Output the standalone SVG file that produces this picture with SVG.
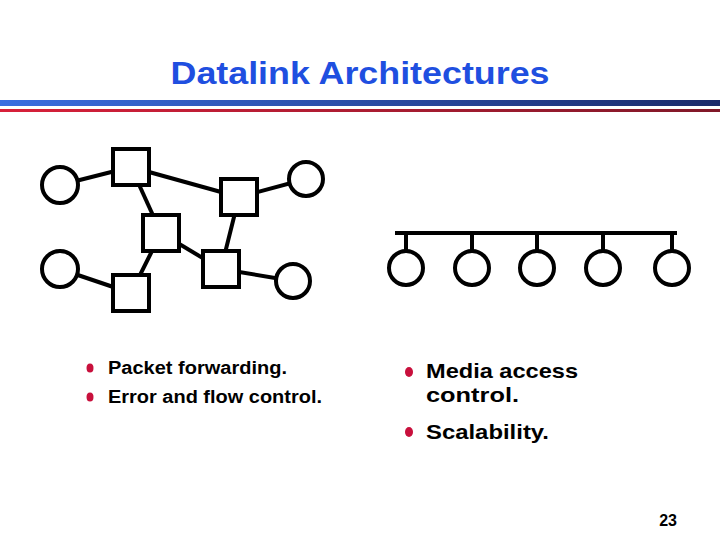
<svg xmlns="http://www.w3.org/2000/svg" width="720" height="540" viewBox="0 0 720 540">
<defs>
<linearGradient id="gb" x1="0" x2="1"><stop offset="0" stop-color="#3a6ee0"/><stop offset="1" stop-color="#1a2a6a"/></linearGradient>
<linearGradient id="gr" x1="0" x2="1"><stop offset="0" stop-color="#d8203a"/><stop offset="1" stop-color="#801828"/></linearGradient>
</defs>
<style>
.n{fill:#fff;stroke:#000;stroke-width:4}
.c line{stroke:#000;stroke-width:4}
.t{font-family:"Liberation Sans",Arial,sans-serif;fill:#000;font-weight:bold}
.b{fill:#c8103c}
</style>
<rect width="720" height="540" fill="#fff"/>
<text x="360" y="84" text-anchor="middle" font-family="Liberation Sans,Arial,sans-serif" font-weight="bold" font-size="32" fill="#1f4fe0" textLength="379" lengthAdjust="spacingAndGlyphs">Datalink Architectures</text>
<rect x="0" y="100" width="720" height="6" fill="url(#gb)"/>
<rect x="0" y="109" width="720" height="3" fill="url(#gr)"/>
<g class="c" id="connectors">
<line x1="60" y1="185" x2="131" y2="167"/><line x1="131" y1="167" x2="239" y2="197"/><line x1="239" y1="197" x2="306" y2="179"/>
<line x1="131" y1="167" x2="161" y2="233"/><line x1="239" y1="197" x2="221" y2="269"/><line x1="161" y1="233" x2="221" y2="269"/>
<line x1="161" y1="233" x2="131" y2="293"/><line x1="60" y1="269" x2="131" y2="293"/><line x1="221" y1="269" x2="293" y2="281"/>
<line x1="395" y1="233" x2="677" y2="233"/>
<line x1="406" y1="233" x2="406" y2="252"/><line x1="472" y1="233" x2="472" y2="252"/><line x1="537" y1="233" x2="537" y2="252"/><line x1="603" y1="233" x2="603" y2="252"/><line x1="672" y1="233" x2="672" y2="252"/>
</g>
<g id="s1"><rect class="n" x="113" y="149" width="36" height="36"/></g>
<g id="s2"><rect class="n" x="221" y="179" width="36" height="36"/></g>
<g id="s3"><rect class="n" x="143" y="215" width="36" height="36"/></g>
<g id="s4"><rect class="n" x="203" y="251" width="36" height="36"/></g>
<g id="s5"><rect class="n" x="113" y="275" width="36" height="36"/></g>
<g id="c1"><circle class="n" cx="60" cy="185" r="18"/></g>
<g id="c2"><circle class="n" cx="306" cy="179" r="17"/></g>
<g id="c3"><circle class="n" cx="60" cy="269" r="18"/></g>
<g id="c4"><circle class="n" cx="293" cy="281" r="17"/></g>
<g id="b1"><circle class="n" cx="406" cy="268" r="17"/></g>
<g id="b2"><circle class="n" cx="472" cy="268" r="17"/></g>
<g id="b3"><circle class="n" cx="537" cy="268" r="17"/></g>
<g id="b4"><circle class="n" cx="603" cy="268" r="17"/></g>
<g id="b5"><circle class="n" cx="672" cy="268" r="17"/></g>
<ellipse class="b" cx="90" cy="368" rx="3.5" ry="4.5"/><ellipse class="b" cx="90" cy="397" rx="3.5" ry="4.5"/>
<text class="t" x="108" y="374" font-size="18" textLength="179" lengthAdjust="spacingAndGlyphs">Packet forwarding.</text>
<text class="t" x="108" y="403" font-size="18" textLength="214" lengthAdjust="spacingAndGlyphs">Error and flow control.</text>
<ellipse class="b" cx="409" cy="372" rx="4" ry="5"/><ellipse class="b" cx="409" cy="432" rx="4" ry="5"/>
<text class="t" x="426" y="378" font-size="21" textLength="152" lengthAdjust="spacingAndGlyphs">Media access</text>
<text class="t" x="426" y="402" font-size="21" textLength="93" lengthAdjust="spacingAndGlyphs">control.</text>
<text class="t" x="426" y="439" font-size="21" textLength="123" lengthAdjust="spacingAndGlyphs">Scalability.</text>
<text class="t" x="677" y="526" font-size="16" text-anchor="end">23</text>
</svg>
